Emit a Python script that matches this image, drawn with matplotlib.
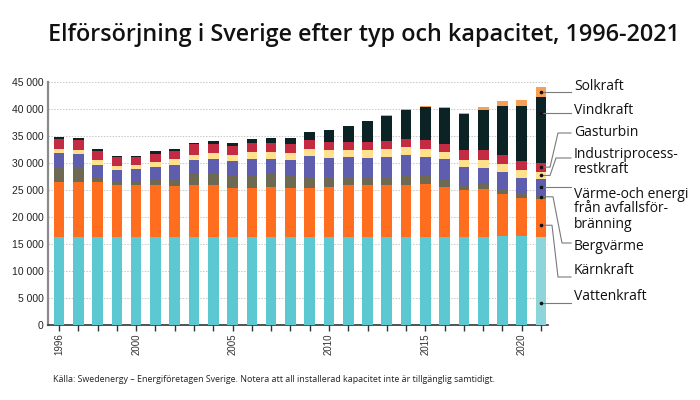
import numpy as np
import matplotlib
matplotlib.use('Agg')
import matplotlib.pyplot as plt
from matplotlib.lines import Line2D
from matplotlib.ticker import MultipleLocator, FuncFormatter

# data (MW)
years = list(range(1996, 2022))
vattenkraft = [16300, 16300, 16300, 16300, 16300, 16300, 16240, 16300, 16240, 16240, 16240, 16240, 16240,
               16240, 16240, 16240, 16360, 16360, 16360, 16360, 16300, 16360, 16360, 16550, 16550, 16360]
karnkraft = [10250, 10250, 10180, 9630, 9630, 9630, 9500, 9630, 9690, 9070, 9070, 9260, 9070,
             9070, 9380, 9690, 9570, 9570, 9570, 9820, 9260, 8700, 8890, 7710, 6910, 7040]
bergvarme = [2770, 2770, 810, 490, 490, 1050, 1360, 1970, 2220, 2220, 2470, 2400, 2220,
             1980, 1670, 1540, 1360, 1540, 1670, 1350, 1480, 930, 860, 930, 990, 680]
varme_avfall = [2480, 2280, 2400, 2230, 2410, 2280, 2530, 2720, 2650, 2900, 3020, 2900, 3090,
                4070, 3700, 3580, 3580, 3710, 3820, 3650, 3640, 3210, 3030, 3090, 2780, 2900]
industri = [800, 870, 930, 860, 740, 990, 1050, 930, 990, 1050, 1300, 1300, 1170,
            1240, 1360, 1300, 1480, 1350, 1480, 1350, 1420, 1420, 1480, 1540, 1540, 1420]
gasturbin = [1850, 1790, 1600, 1550, 1480, 1420, 1610, 1910, 1670, 1610, 1550, 1610, 1670,
             1600, 1600, 1480, 1480, 1610, 1550, 1670, 1480, 1730, 1730, 1670, 1600, 1670]
vindkraft = [300, 310, 380, 300, 250, 550, 370, 310, 620, 560, 800, 860, 1230,
             1600, 2160, 3090, 4010, 4630, 5450, 6100, 6670, 6670, 7460, 9130, 10130, 12220]
solkraft = [0, 0, 0, 0, 0, 0, 0, 0, 0, 0, 0, 0, 0,
            0, 0, 0, 0, 40, 100, 200, 190, 300, 500, 800, 1230, 1730]

series = [vattenkraft, karnkraft, bergvarme, varme_avfall, industri, gasturbin, vindkraft, solkraft]
colors = ['#5BC8D2', '#FF6E1F', '#6E6953', '#5E5DAE', '#FFE08C', '#C52A43', '#0B2324', '#F7A055']
last_colors = ['#8DD5DB', '#FF6E1F', '#6E6953', '#5E5DAE', '#FFE08C', '#C52A43', '#0B2324', '#F7A055']

labels = ['Vattenkraft', 'Kärnkraft', 'Bergvärme', 'Värme-och energi\nfrån avfallsför-\nbränning',
          'Industriprocess-\nrestkraft', 'Gasturbin', 'Vindkraft', 'Solkraft']

fig = plt.figure(figsize=(7, 4), dpi=100)
ax = fig.add_axes([48 / 700, 1 - 325 / 400, 500 / 700, 243 / 400])

x = np.array(years)
bottom = np.zeros(len(years))
for vals, c, lc in zip(series, colors, last_colors):
    vals = np.array(vals, dtype=float)
    cols = [c] * (len(years) - 1) + [lc]
    ax.bar(x, vals, bottom=bottom, width=0.55, color=cols, linewidth=0, zorder=3)
    bottom += vals

ax.set_xlim(1995.43, 2021.36)
ax.set_ylim(0, 45000)
ax.yaxis.set_major_locator(MultipleLocator(5000))
ax.yaxis.set_major_formatter(FuncFormatter(lambda v, p: f"{int(v):,}".replace(",", " ")))
ax.set_xticks(years)
ax.set_xticklabels([str(y) if (y == 1996 or y % 5 == 0) else '' for y in years],
                   rotation=90, fontsize=7, family='Liberation Sans')
for t in ax.get_yticklabels():
    t.set_family('Liberation Sans')
    t.set_fontsize(7.5)

ax.grid(True, axis='y', linestyle=(0, (1.5, 1.5)), color='#c8c8c8', linewidth=0.7, zorder=0)
ax.tick_params(axis='y', length=0, pad=3, colors='#222222')
ax.tick_params(axis='x', length=4, width=1, direction='out', colors='#333333', pad=2)
for s in ['top', 'right']:
    ax.spines[s].set_visible(False)
ax.spines['left'].set_color('#8a8a8a')
ax.spines['left'].set_linewidth(1.6)
ax.spines['bottom'].set_color('#333333')
ax.spines['bottom'].set_linewidth(1.2)

# title and source
fig.text(364 / 700, 1 - 41 / 400, 'Elförsörjning i Sverige efter typ och kapacitet, 1996-2021',
         ha='center', va='baseline', fontsize=16.8, family='Open Sans', weight='semibold', color='#111111')
fig.text(53 / 700, 1 - 380 / 400,
         'Källa: Swedenergy – Energiföretagen Sverige. Notera att all installerad kapacitet inte är tillgänglig samtidigt.',
         ha='left', va='center', fontsize=6.4, family='Open Sans', color='#222222')

# labels on the right with leader lines to the last bar
fig.canvas.draw()
W, H = 700, 400
text_y = [297, 271, 246, 209, 162, 133, 110, 87]          # pixel rows (from top)
end_y = [None, 277, 243, None, 158, 133, None, None]      # where an elbow line lands
elbow_x = [None, (552, 558), (553, 562), None, (550, 556), (550, 558), None, None]
anchor = [0.25, 0.3, 0.5, 0.5, 0.5, 0.5, 0.75, 0.5]       # position of dot within segment

cum = 0
last = len(years) - 1
for i, vals in enumerate(series):
    v = vals[last]
    yv = cum + anchor[i] * v
    cum += v
    px, py = ax.transData.transform((years[last], yv))
    dot_x, dot_y = px, H - py
    if end_y[i] is None:
        xs = [dot_x, 571]
        ys = [dot_y, dot_y]
    else:
        xs = [dot_x, elbow_x[i][0], elbow_x[i][1], 571]
        ys = [dot_y, dot_y, end_y[i], end_y[i]]
    fx = [xx / W for xx in xs]
    fy = [1 - yy / H for yy in ys]
    fig.add_artist(Line2D(fx, fy, color='#7a7a7a', linewidth=0.8, transform=fig.transFigure, zorder=5))
    fig.add_artist(Line2D([fx[0]], [fy[0]], marker='o', markersize=1.6, color='#111111',
                          transform=fig.transFigure, zorder=6))
    fig.text(574 / W, 1 - text_y[i] / H, labels[i], ha='left', va='center', fontsize=10,
             family='Open Sans', color='#111111', linespacing=1.0)

fig.savefig('out.png', dpi=100)
